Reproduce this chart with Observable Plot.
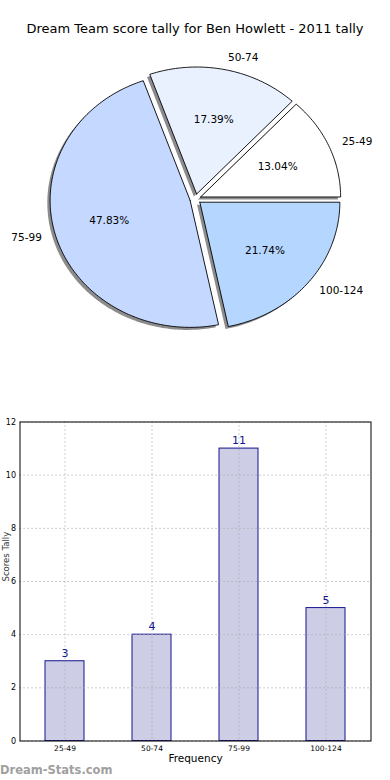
<!DOCTYPE html>
<html>
<head>
<meta charset="utf-8">
<script src="https://cdn.jsdelivr.net/npm/d3@7"></script>
<script src="https://cdn.jsdelivr.net/npm/@observablehq/plot@0.6"></script>
<style>
  html, body { margin: 0; padding: 0; background: #fff; }
  #wrap { position: relative; width: 390px; height: 780px; overflow: hidden; font-family: "DejaVu Sans", sans-serif; }
  #title { position: absolute; top: 21px; left: 0; width: 390px; text-align: center; font-size: 13px; color: #000; white-space: nowrap; }
  #pie { position: absolute; top: 0; left: 0; }
  #bar { position: absolute; top: 400px; left: 0; }
  #mark { position: absolute; left: 0; top: 763px; font-size: 11.5px; font-weight: bold; color: #a0a0a0; }
</style>
</head>
<body>
<div id="wrap">
  <div id="pie"></div>
  <div id="title">Dream Team score tally for Ben Howlett - 2011 tally</div>
  <div id="bar"></div>
  <div id="mark">Dream-Stats.com</div>
</div>
<script>
// ---- data ----
const categories = ["25-49", "50-74", "75-99", "100-124"];
const counts = [3, 4, 11, 5];
const yTicks = [0, 2, 4, 6, 8, 10, 12];
const chartTitle = "Dream Team score tally for Ben Howlett - 2011 tally";
const xLabel = "Frequency";
const yLabel = "Scores Tally";

// ---- styles ----
const pieColors = ["#ffffff", "#e9f1ff", "#c5d8ff", "#b4d6ff"];
const explode = 0.04;
const font = "DejaVu Sans";

// ---- pie geometry derived from the data ----
const total = d3.sum(counts);
const slices = [];
let acc = 0;
categories.forEach((c, i) => {
  const a0 = acc / total * 2 * Math.PI;
  acc += counts[i];
  const a1 = acc / total * 2 * Math.PI;
  const mid = (a0 + a1) / 2;
  slices.push({cat: c, value: counts[i], a0, a1, mid, ox: explode * Math.cos(mid), oy: explode * Math.sin(mid)});
});
const piePoints = [];
for (const s of slices) {
  const n = Math.max(8, Math.ceil((s.a1 - s.a0) / (Math.PI / 180)));
  const pts = [{cat: s.cat, x: s.ox, y: s.oy}];
  for (let k = 0; k <= n; k++) {
    const a = s.a0 + (s.a1 - s.a0) * k / n;
    pts.push({cat: s.cat, x: s.ox + Math.cos(a), y: s.oy + Math.sin(a)});
  }
  pts.push({cat: s.cat, x: s.ox, y: s.oy});
  piePoints.push(...pts);
}
const shadowPoints = piePoints.map(p => ({...p, x: p.x - 0.02, y: p.y - 0.02}));
const pctLabels = slices.map(s => ({
  text: (s.value / total * 100).toFixed(2) + "%",
  x: s.ox + 0.6 * Math.cos(s.mid), y: s.oy + 0.6 * Math.sin(s.mid)
}));
const catLabels = slices.map(s => ({
  text: s.cat,
  x: s.ox + 1.1 * Math.cos(s.mid), y: s.oy + 1.1 * Math.sin(s.mid),
  anchor: Math.cos(s.mid) >= 0 ? "start" : "end"
}));

const pie = Plot.plot({
  width: 390, height: 400,
  marginLeft: 55, marginRight: 55, marginTop: 71.5, marginBottom: 74.5,
  style: {fontFamily: font, background: "transparent", overflow: "visible"},
  x: {domain: [-1, 1], axis: null},
  y: {domain: [-1, 1], axis: null},
  color: {domain: categories, range: pieColors},
  marks: [
    Plot.line(shadowPoints, {x: "x", y: "y", z: "cat", fill: "#8c8c8c", stroke: "none", curve: "linear"}),
    Plot.line(piePoints, {x: "x", y: "y", z: "cat", fill: "cat", stroke: "#000", strokeWidth: 0.9, curve: "linear", strokeLinejoin: "miter"}),
    Plot.text(pctLabels, {x: "x", y: "y", text: "text", fontSize: 10.5, fill: "#000"}),
    Plot.text(catLabels.filter(d => d.anchor === "start"), {x: "x", y: "y", text: "text", textAnchor: "start", fontSize: 10.5, fill: "#000"}),
    Plot.text(catLabels.filter(d => d.anchor === "end"), {x: "x", y: "y", text: "text", textAnchor: "end", fontSize: 10.5, fill: "#000"})
  ]
});
document.getElementById("pie").appendChild(pie);
document.getElementById("title").textContent = chartTitle;

// ---- bar chart ----
const barData = categories.map((c, i) => ({cat: c, value: counts[i]}));
const bar = Plot.plot({
  width: 390, height: 380,
  marginLeft: 19.5, marginRight: 19.5, marginTop: 21.5, marginBottom: 39.5,
  style: {fontFamily: font, background: "transparent", overflow: "visible"},
  x: {domain: categories, paddingInner: 0.55, paddingOuter: 0.275, axis: null},
  y: {domain: [0, 12], axis: null},
  marks: [
    Plot.barY(barData, {x: "cat", y: "value", fill: "#cdcde6", stroke: "#14148c", strokeWidth: 1}),
    Plot.ruleX(categories, {x: d => d, stroke: "#aaaaaa", strokeWidth: 1, strokeDasharray: "1.2,2.8"}),
    Plot.ruleY(yTicks, {y: d => d, stroke: "#aaaaaa", strokeWidth: 1, strokeDasharray: "1.2,2.8"}),
    Plot.frame({stroke: "#000", strokeWidth: 1}),
    Plot.axisY({ticks: yTicks, tickSize: 0, tickPadding: 4, fontSize: 8, label: null}),
    Plot.axisX({tickSize: 0, tickPadding: 4.5, fontSize: 7.5, label: null}),
    Plot.text(barData, {x: "cat", y: "value", text: d => String(d.value), dy: -8, fontSize: 11, fill: "#14148c"}),
    Plot.text([xLabel], {frameAnchor: "bottom", dy: 21, text: d => d, fontSize: 10.5, fill: "#000"}),
    Plot.text([yLabel], {frameAnchor: "left", dx: -14, rotate: -90, text: d => d, fontSize: 8.5, fill: "#333"})
  ]
});
document.getElementById("bar").appendChild(bar);
</script>
</body>
</html>
